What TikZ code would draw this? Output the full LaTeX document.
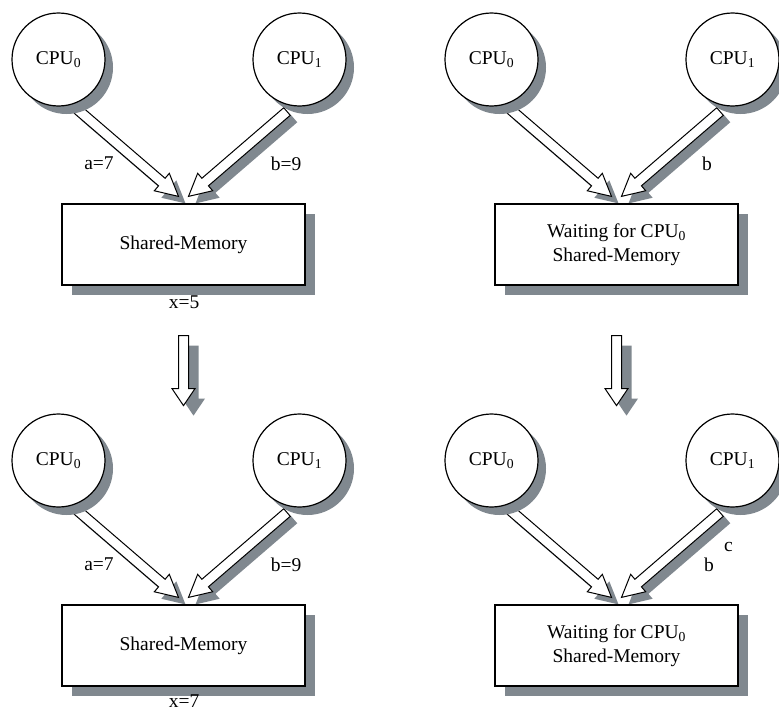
\documentclass[tikz,border=0pt]{standalone}
\usepackage{fontspec}
\setmainfont{Liberation Serif}
\usetikzlibrary{calc,shadows,backgrounds}

\definecolor{shadowgray}{RGB}{128,136,143}

\tikzset{
  cpu/.style={circle, draw, line width=1.2pt, fill=white, minimum size=93pt, inner sep=0pt,
    drop shadow={shadow xshift=8pt, shadow yshift=-8pt, fill=shadowgray, opacity=1}},
  memory/.style={rectangle, draw, line width=1.2pt, fill=white, minimum width=243pt,
    minimum height=81pt, align=center,
    drop shadow={shadow xshift=10pt, shadow yshift=-10pt, fill=shadowgray, opacity=1}},
  tag/.style={inner sep=0pt},
  arrowbody/.style={draw, fill=white, line width=1pt, line join=miter},
  arrowshadow/.style={fill=shadowgray},
}

% hollow block arrow with a drop shadow
% #1 head length, #2 tail, #3 tip, #4 shadow offset
\newcommand{\hollowarrow}[4][22pt]{%
  \coordinate (ha-b) at ($(#3)!#1!(#2)$);
  \coordinate (ha-1) at ($(#2)!5pt!90:(#3)$);
  \coordinate (ha-2) at ($(ha-b)!5pt!90:(#3)$);
  \coordinate (ha-3) at ($(ha-b)!11.5pt!90:(#3)$);
  \coordinate (ha-5) at ($(ha-b)!11.5pt!-90:(#3)$);
  \coordinate (ha-6) at ($(ha-b)!5pt!-90:(#3)$);
  \coordinate (ha-7) at ($(#2)!5pt!-90:(#3)$);
  \fill[arrowshadow, transform canvas={shift={#4}}]
    (ha-1) -- (ha-2) -- (ha-3) -- (#3) -- (ha-5) -- (ha-6) -- (ha-7) -- cycle;
  \draw[arrowbody]
    (ha-1) -- (ha-2) -- (ha-3) -- (#3) -- (ha-5) -- (ha-6) -- (ha-7) -- cycle;
}

\begin{document}
\begin{tikzpicture}[x=1pt, y=1pt, font=\fontsize{19.5}{23.5}\selectfont]
\useasboundingbox (0,0) rectangle (779,-712);

% top left
\node[cpu] (tl-cpu0) at (58.5,-59.5) {CPU\textsubscript{0}};
\node[cpu] (tl-cpu1) at (299.5,-59.5) {CPU\textsubscript{1}};
\node[memory] (tl-mem) at (183.5,-244.5) {Shared-Memory};
\node[tag] (tl-a) at (99,-163.5) {a=7};
\node[tag] (tl-b) at (286,-163.5) {b=9};
\node[tag] (tl-x) at (184,-302) {x=5};

% top right
\begin{scope}[shift={(433,0)}]
  \node[cpu] (tr-cpu0) at (58.5,-59.5) {CPU\textsubscript{0}};
  \node[cpu] (tr-cpu1) at (299.5,-59.5) {CPU\textsubscript{1}};
  \node[memory] (tr-mem) at (183.5,-244.5) {Waiting for CPU\textsubscript{0}\\Shared-Memory};
  \node[tag] (tr-b) at (274,-163.5) {b};
\end{scope}

% bottom left
\begin{scope}[shift={(0,-401)}]
  \node[cpu] (bl-cpu0) at (58.5,-59.5) {CPU\textsubscript{0}};
  \node[cpu] (bl-cpu1) at (299.5,-59.5) {CPU\textsubscript{1}};
  \node[memory] (bl-mem) at (183.5,-244.5) {Shared-Memory};
  \node[tag] (bl-a) at (99,-163.5) {a=7};
  \node[tag] (bl-b) at (286,-163.5) {b=9};
  \node[tag] (bl-x) at (184,-300) {x=7};
\end{scope}

% bottom right
\begin{scope}[shift={(433,-401)}]
  \node[cpu] (br-cpu0) at (58.5,-59.5) {CPU\textsubscript{0}};
  \node[cpu] (br-cpu1) at (299.5,-59.5) {CPU\textsubscript{1}};
  \node[memory] (br-mem) at (183.5,-244.5) {Waiting for CPU\textsubscript{0}\\Shared-Memory};
  \node[tag] (br-c) at (295.5,-146) {c};
  \node[tag] (br-b) at (276,-164) {b};
\end{scope}

% transfers from the processors into the memory
\begin{pgfonlayer}{background}
  \foreach \p in {tl,tr,bl,br} {
    \coordinate (\p-tail0) at ($(\p-cpu0.center)+(19,-50)$);
    \coordinate (\p-tail1) at ($(\p-cpu1.center)+(-12.5,-52)$);
    \coordinate (\p-tip0) at ($(\p-mem.north)+(-5,7)$);
    \coordinate (\p-tip1) at ($(\p-mem.north)+(5,7)$);
    \hollowarrow{\p-tail0}{\p-tip0}{(7,-7)}
    \hollowarrow{\p-tail1}{\p-tip1}{(7,-7)}
  }
\end{pgfonlayer}

% step from one state to the next
\coordinate (step-l-top) at ($(tl-mem.south)+(0,-50)$);
\coordinate (step-l-tip) at ($(tl-mem.south)+(0,-120)$);
\coordinate (step-r-top) at ($(tr-mem.south)+(0,-50)$);
\coordinate (step-r-tip) at ($(tr-mem.south)+(0,-120)$);
\hollowarrow[17pt]{step-l-top}{step-l-tip}{(10,-10)}
\hollowarrow[17pt]{step-r-top}{step-r-tip}{(10,-10)}

\end{tikzpicture}
\end{document}
